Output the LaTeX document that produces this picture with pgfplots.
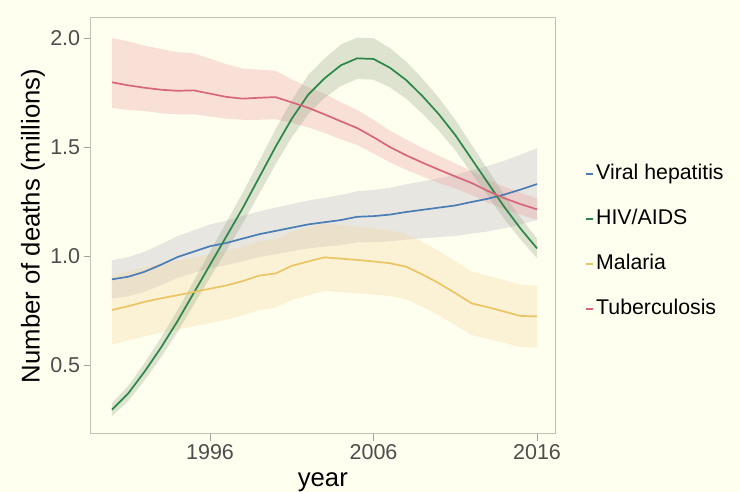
\documentclass[border=0pt]{standalone}
\usepackage{pgfplots}
\pgfplotsset{compat=1.18}
\usepackage{pgfplotstable}
\usepgfplotslibrary{fillbetween}
\usepackage{fontspec}
\setmainfont{Liberation Sans}
\definecolor{bg}{HTML}{FFFFF0}
\definecolor{border}{HTML}{C6C0B2}
\definecolor{tickc}{HTML}{4D4D4D}
\definecolor{tickm}{HTML}{A8A296}
\definecolor{tbline}{HTML}{D8667A}
\definecolor{tbfill}{HTML}{EB9B9D}
\definecolor{hivline}{HTML}{2A8748}
\definecolor{hivfill}{HTML}{91A585}
\definecolor{hepline}{HTML}{4A7DB6}
\definecolor{hepfill}{HTML}{B2ADBC}
\definecolor{malline}{HTML}{EBC464}
\definecolor{malfill}{HTML}{F5D79D}

\pgfplotstableread{
year mid lo hi
1990 1.797 1.680 2.000
1991 1.783 1.670 1.985
1992 1.772 1.665 1.965
1993 1.763 1.655 1.950
1994 1.758 1.650 1.935
1995 1.760 1.650 1.930
1996 1.745 1.640 1.905
1997 1.730 1.630 1.880
1998 1.722 1.625 1.860
1999 1.726 1.625 1.855
2000 1.729 1.628 1.850
2001 1.705 1.610 1.810
2002 1.680 1.590 1.775
2003 1.650 1.565 1.745
2004 1.618 1.535 1.705
2005 1.587 1.510 1.670
2006 1.545 1.470 1.625
2007 1.500 1.430 1.575
2008 1.462 1.395 1.535
2009 1.428 1.365 1.495
2010 1.396 1.335 1.460
2011 1.365 1.310 1.425
2012 1.335 1.280 1.390
2013 1.298 1.245 1.350
2014 1.265 1.215 1.318
2015 1.238 1.190 1.290
2016 1.214 1.165 1.265
}\tb

\pgfplotstableread{
year mid lo hi
1990 0.295 0.265 0.325
1991 0.370 0.335 0.405
1992 0.470 0.430 0.510
1993 0.580 0.535 0.625
1994 0.700 0.650 0.750
1995 0.830 0.775 0.885
1996 0.960 0.900 1.020
1997 1.090 1.025 1.155
1998 1.220 1.150 1.290
1999 1.360 1.285 1.435
2000 1.500 1.420 1.580
2001 1.630 1.545 1.715
2002 1.740 1.650 1.830
2003 1.815 1.725 1.905
2004 1.875 1.780 1.970
2005 1.907 1.812 2.002
2006 1.904 1.809 1.999
2007 1.864 1.774 1.954
2008 1.807 1.722 1.892
2009 1.733 1.653 1.813
2010 1.650 1.575 1.725
2011 1.555 1.485 1.625
2012 1.445 1.380 1.510
2013 1.335 1.275 1.395
2014 1.225 1.170 1.280
2015 1.125 1.075 1.175
2016 1.035 0.990 1.080
}\hiv

\pgfplotstableread{
year mid lo hi
1990 0.893 0.805 0.981
1991 0.905 0.815 0.995
1992 0.928 0.836 1.020
1993 0.960 0.866 1.054
1994 0.995 0.899 1.091
1995 1.020 0.922 1.118
1996 1.045 0.945 1.145
1997 1.060 0.958 1.162
1998 1.080 0.976 1.184
1999 1.100 0.995 1.205
2000 1.115 1.008 1.222
2001 1.130 1.022 1.238
2002 1.145 1.035 1.255
2003 1.155 1.043 1.267
2004 1.165 1.050 1.280
2005 1.180 1.063 1.297
2006 1.183 1.063 1.303
2007 1.190 1.067 1.313
2008 1.202 1.075 1.329
2009 1.212 1.081 1.343
2010 1.222 1.087 1.357
2011 1.232 1.092 1.372
2012 1.248 1.103 1.393
2013 1.263 1.113 1.413
2014 1.282 1.127 1.437
2015 1.305 1.145 1.465
2016 1.330 1.165 1.495
}\hep

\pgfplotstableread{
year mid lo hi
1990 0.752 0.594 0.910
1991 0.770 0.612 0.928
1992 0.790 0.632 0.948
1993 0.806 0.648 0.964
1994 0.820 0.662 0.978
1995 0.835 0.677 0.993
1996 0.850 0.692 1.008
1997 0.865 0.707 1.023
1998 0.885 0.727 1.043
1999 0.910 0.752 1.068
2000 0.920 0.762 1.078
2001 0.955 0.798 1.112
2002 0.975 0.819 1.131
2003 0.994 0.839 1.149
2004 0.988 0.834 1.142
2005 0.982 0.829 1.135
2006 0.975 0.823 1.127
2007 0.967 0.816 1.118
2008 0.951 0.801 1.101
2009 0.915 0.766 1.064
2010 0.875 0.727 1.023
2011 0.830 0.683 0.977
2012 0.783 0.637 0.929
2013 0.765 0.620 0.910
2014 0.745 0.601 0.889
2015 0.725 0.582 0.868
2016 0.723 0.581 0.865
}\mal

\begin{document}
\begin{tikzpicture}
\begin{axis}[
  at={(0pt,0pt)}, anchor=south west,
  scale only axis, width=464.3pt, height=416pt,
  xmin=1988.7, xmax=2017.1, ymin=0.1835, ymax=2.092,
  axis background/.style={fill=bg},
  axis line style={draw=border, line width=1pt},
  tick style={draw=tickm, line width=1pt},
  tick align=outside, major tick length=7pt,
  xtick pos=bottom, ytick pos=left,
  xtick={1996,2006,2016}, xticklabels={1996,2006,2016},
  ytick={0.5,1,1.5,2}, yticklabels={0.5,1.0,1.5,2.0},
  /pgf/number format/assume math mode=true,
  ticklabel style={font=\fontsize{21.5}{25}\selectfont, text=tickc},
  xlabel={year}, ylabel={Number of deaths (millions)},
  label style={font=\fontsize{25.7}{30}\selectfont, text=black},
  xlabel style={at={(axis description cs:0.5,-0.1154)}, anchor=center},
  ylabel style={at={(axis description cs:-0.1243,0.5)}, anchor=center},
  legend style={at={(axis description cs:1.0646,0.462)}, anchor=west,
    draw=none, fill=none, inner sep=0pt, row sep=25pt,
    font=\fontsize{21.3}{25}\selectfont,
    nodes={inner xsep=2.5pt, inner ysep=0pt, text height=15.5pt, text depth=4.5pt}},
  legend cell align=left,
  legend image code/.code={\draw[#1, line width=1.5pt] (0pt,0.3pt) -- (7pt,0.3pt);},
]
\begin{pgfonlayer}{axis background}
\fill[bg] ([xshift=-90.7pt,yshift=-58pt]rel axis cs:0,0) rectangle ([xshift=184.7pt,yshift=18pt]rel axis cs:1,1);
\end{pgfonlayer}
% ribbons
\addplot[draw=none, name path=hephi, forget plot] table[x=year,y=hi]{\hep};
\addplot[draw=none, name path=heplo, forget plot] table[x=year,y=lo]{\hep};
\addplot[fill=hepfill, fill opacity=0.3, draw=none, forget plot] fill between[of=hephi and heplo];
\addplot[draw=none, name path=malhi, forget plot] table[x=year,y=hi]{\mal};
\addplot[draw=none, name path=mallo, forget plot] table[x=year,y=lo]{\mal};
\addplot[fill=malfill, fill opacity=0.3, draw=none, forget plot] fill between[of=malhi and mallo];
\addplot[draw=none, name path=tbhi, forget plot] table[x=year,y=hi]{\tb};
\addplot[draw=none, name path=tblo, forget plot] table[x=year,y=lo]{\tb};
\addplot[fill=tbfill, fill opacity=0.3, draw=none, forget plot] fill between[of=tbhi and tblo];
\addplot[draw=none, name path=hivhi, forget plot] table[x=year,y=hi]{\hiv};
\addplot[draw=none, name path=hivlo, forget plot] table[x=year,y=lo]{\hiv};
\addplot[fill=hivfill, fill opacity=0.3, draw=none, forget plot] fill between[of=hivhi and hivlo];
% lines
\addplot[hepline, line width=1.7pt, no marks] table[x=year,y=mid]{\hep};
\addlegendentry{Viral hepatitis}
\addplot[hivline, line width=1.7pt, no marks] table[x=year,y=mid]{\hiv};
\addlegendentry{HIV/AIDS}
\addplot[malline, line width=1.7pt, no marks] table[x=year,y=mid]{\mal};
\addlegendentry{Malaria}
\addplot[tbline, line width=1.7pt, no marks] table[x=year,y=mid]{\tb};
\addlegendentry{Tuberculosis}
\end{axis}
\pgfresetboundingbox
\path[use as bounding box] (-90.7pt,-58pt) rectangle (649.3pt,434pt);
\end{tikzpicture}
\end{document}
